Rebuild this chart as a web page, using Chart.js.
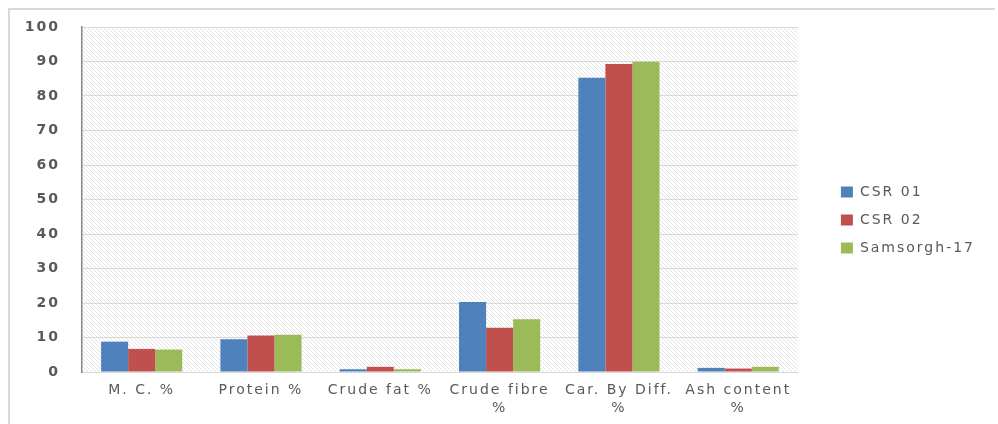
<!DOCTYPE html>
<html>
<head>
<meta charset="utf-8">
<script src="https://cdn.jsdelivr.net/npm/chart.js@4/dist/chart.umd.min.js"></script>
<style>
  html, body { margin: 0; padding: 0; background: #fff; }
  #wrap { width: 998px; height: 424px; position: relative; }
</style>
</head>
<body>
<div id="wrap"><canvas id="chart"></canvas></div>
<script>
// data
var categories = ['M. C. %', 'Protein %', 'Crude fat %', ['Crude fibre', '%'], ['Car. By Diff.', '%'], ['Ash content', '%']];
var csr01 = [8.8, 9.5, 0.8, 20.3, 85.3, 1.2];
var csr02 = [6.7, 10.6, 1.5, 12.8, 89.3, 1.0];
var samsorgh17 = [6.5, 10.8, 0.8, 15.3, 89.9, 1.5];
var yTicks = [0, 10, 20, 30, 40, 50, 60, 70, 80, 90, 100];

var textColor = '#595959';
var legendShift = 29;

// diagonal hatch used as plot area fill
function makeHatch() {
  var c = document.createElement('canvas');
  c.width = 4; c.height = 4;
  var g = c.getContext('2d');
  g.fillStyle = '#ffffff';
  g.fillRect(0, 0, 4, 4);
  g.strokeStyle = '#e2e2e2';
  g.lineWidth = 1;
  g.beginPath();
  g.moveTo(-1, -1); g.lineTo(5, 5);
  g.moveTo(-1, 3); g.lineTo(1, 5);
  g.moveTo(3, -1); g.lineTo(5, 1);
  g.stroke();
  return g.createPattern(c, 'repeat');
}

// wide lettering like the original
function spaceOut(chart) { chart.ctx.letterSpacing = '2px'; }

var backdrop = {
  id: 'backdrop',
  beforeLayout: function (chart) {
    spaceOut(chart);
    var lg = chart.legend;
    if (lg && !lg._wide) {
      var fit = lg.fit;
      lg.fit = function () { fit.call(this); this.width += legendShift; };
      lg._wide = true;
    }
  },
  afterLayout: function (chart) {
    var lg = chart.legend;
    if (lg) {
      lg.left += legendShift;
      lg.top += 8;
      lg.bottom += 8;
    }
  },
  beforeDraw: function (chart) {
    spaceOut(chart);
    var ctx = chart.ctx, a = chart.chartArea;
    ctx.save();
    ctx.fillStyle = makeHatch();
    ctx.fillRect(a.left, a.top, a.right - a.left, a.bottom - a.top);
    // outer frame
    ctx.strokeStyle = '#d9d9d9';
    ctx.lineWidth = 2;
    ctx.beginPath();
    ctx.moveTo(9, 424);
    ctx.lineTo(9, 9);
    ctx.lineTo(995, 9);
    ctx.stroke();
    ctx.restore();
  }
};

new Chart(document.getElementById('chart'), {
  type: 'bar',
  data: {
    labels: categories,
    datasets: [
      { label: 'CSR 01', data: csr01, backgroundColor: '#4f81bd' },
      { label: 'CSR 02', data: csr02, backgroundColor: '#c0504d' },
      { label: 'Samsorgh-17', data: samsorgh17, backgroundColor: '#9bbb59' }
    ]
  },
  options: {
    responsive: true,
    maintainAspectRatio: false,
    animation: false,
    layout: { padding: { left: 0, top: 0, right: 13, bottom: 0 } },
    datasets: { bar: { categoryPercentage: 0.68, barPercentage: 1.0 } },
    scales: {
      x: {
        grid: { display: false, drawTicks: false },
        border: { color: '#d9d9d9', width: 1 },
        afterFit: function (scale) { scale.height = 52; },
        ticks: {
          color: textColor,
          font: { family: 'DejaVu Sans', size: 14, lineHeight: 1.3 },
          padding: 9,
          maxRotation: 0,
          autoSkip: false
        }
      },
      y: {
        min: 0,
        max: 100,
        afterBuildTicks: function (scale) {
          scale.ticks = yTicks.map(function (v) { return { value: v }; });
        },
        afterFit: function (scale) {
          scale.width = 82;
          scale.paddingTop = 27;
          scale.paddingBottom = 0;
        },
        grid: { color: '#d9d9d9', drawTicks: false },
        border: { color: '#868686', width: 1.5 },
        ticks: {
          color: textColor,
          font: { family: 'DejaVu Sans', size: 14, weight: 'bold' },
          padding: 22
        }
      }
    },
    plugins: {
      legend: {
        position: 'right',
        labels: {
          color: textColor,
          font: { family: 'DejaVu Sans', size: 14 },
          boxWidth: 12,
          boxHeight: 11,
          padding: 14
        }
      },
      tooltip: { enabled: false }
    }
  },
  plugins: [backdrop]
});
</script>
</body>
</html>
